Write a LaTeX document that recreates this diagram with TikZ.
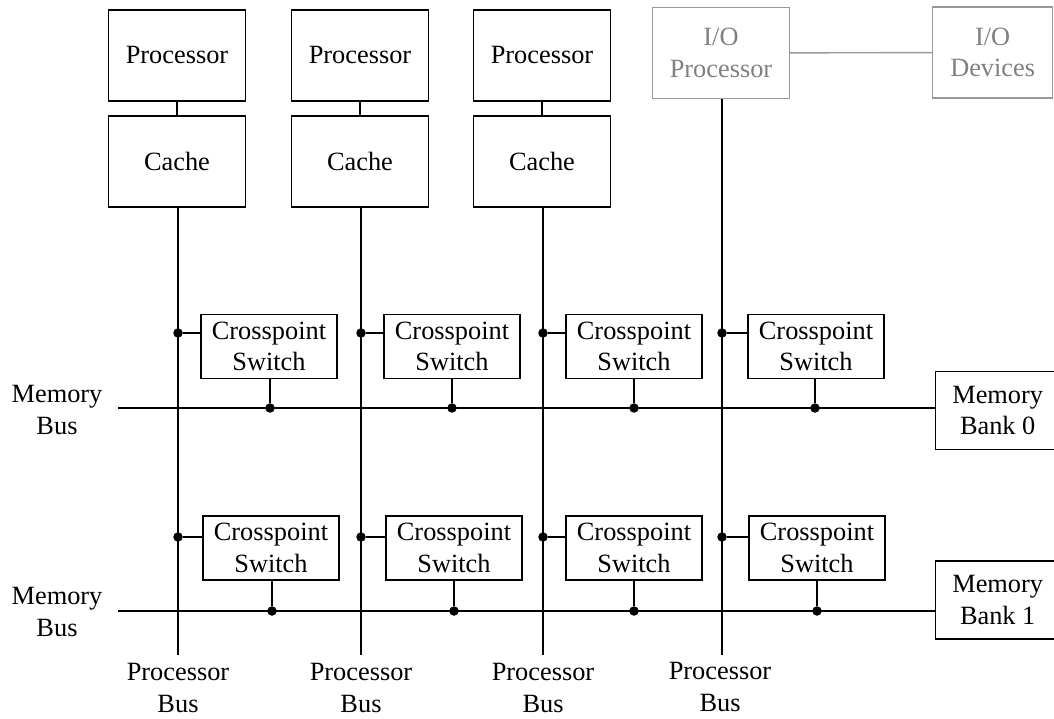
\documentclass[tikz,border=0pt]{standalone}
\usepackage{fontspec}
\setmainfont{Liberation Serif}
\usetikzlibrary{positioning,calc}

\begin{document}
\begin{tikzpicture}[x=0.02cm, y=-0.02cm,
    % boxes
    box/.style={draw, line width=0.8pt, minimum width=2.74cm, minimum height=1.82cm, inner sep=0pt, align=center, font=\fontsize{15}{18}\selectfont},
    swbox/.style={box, minimum width=2.72cm, minimum height=1.28cm},
    bankbox/.style={box, minimum width=2.48cm, minimum height=1.56cm, anchor=west},
    iobox/.style={box, draw=black!40, text=black!50},
    % lines and joints
    bus/.style={draw, line width=0.8pt},
    iobus/.style={draw=black!40, line width=0.8pt},
    joint/.style={circle, fill=black, minimum size=0.19cm, inner sep=0pt},
    lbl/.style={align=center, font=\fontsize{15}{18}\selectfont}
  ]
  \useasboundingbox (0,0) rectangle (1054,719);

  % --- PROCESSORS AND CACHES ---
  \node[box] (p1) at (177,55.5) {Processor};
  \node[box] (p2) at (360,55.5) {Processor};
  \node[box] (p3) at (542,55.5) {Processor};
  \node[iobox] (p4) at (721,53) {I/O\\Processor};
  \node[iobox, anchor=west, minimum width=2.4cm] (dev) at (932,52.5) {I/O\\Devices};

  \node[box] (c1) at (177,161.5) {Cache};
  \node[box] (c2) at (360,161.5) {Cache};
  \node[box] (c3) at (542,161.5) {Cache};

  \draw[bus] (p1) -- (c1);
  \draw[bus] (p2) -- (c2);
  \draw[bus] (p3) -- (c3);
  \draw[iobus] (p4) -- (dev);

  % --- PROCESSOR BUSES ---
  \coordinate (b1) at (178,655);
  \coordinate (b2) at (361,655);
  \coordinate (b3) at (543,655);
  \coordinate (b4) at (722,655);
  \draw[bus] (c1.south -| b1) -- (b1);
  \draw[bus] (c2.south -| b2) -- (b2);
  \draw[bus] (c3.south -| b3) -- (b3);
  \draw[bus] (p4.south -| b4) -- (b4);

  % --- MEMORY BANKS AND MEMORY BUSES ---
  \node[bankbox] (m0) at (935,410.5) {Memory\\Bank 0};
  \node[bankbox] (m1) at (935,600) {Memory\\Bank 1};
  \coordinate (mb0) at (118,408);
  \coordinate (mb1) at (118,611);
  \draw[bus] (mb0) -- (mb0 -| m0.west);
  \draw[bus] (mb1) -- (mb1 -| m1.west);

  \node[lbl] (l0) at (57,410) {Memory\\Bus};
  \node[lbl] (l1) at (57,612) {Memory\\Bus};

  % --- CROSSPOINT SWITCHES ---
  % row of memory bank 0
  \node[swbox] (s01) at (269,346.5) {Crosspoint\\Switch};
  \node[swbox] (s02) at (452,346.5) {Crosspoint\\Switch};
  \node[swbox] (s03) at (634,346.5) {Crosspoint\\Switch};
  \node[swbox] (s04) at (816,346.5) {Crosspoint\\Switch};
  % row of memory bank 1
  \node[swbox] (s11) at (271,548) {Crosspoint\\Switch};
  \node[swbox] (s12) at (454,548) {Crosspoint\\Switch};
  \node[swbox] (s13) at (634,548) {Crosspoint\\Switch};
  \node[swbox] (s14) at (817,548) {Crosspoint\\Switch};

  % joints on processor buses
  \node[joint] (j01) at (178,333) {};
  \node[joint] (j02) at (361,333) {};
  \node[joint] (j03) at (543,333) {};
  \node[joint] (j04) at (722,333) {};
  \node[joint] (j11) at (178,537) {};
  \node[joint] (j12) at (361,537) {};
  \node[joint] (j13) at (543,537) {};
  \node[joint] (j14) at (722,537) {};

  % joints on memory buses
  \node[joint] (k01) at (270,408) {};
  \node[joint] (k02) at (452,408) {};
  \node[joint] (k03) at (634,408) {};
  \node[joint] (k04) at (815,408) {};
  \node[joint] (k11) at (272,611) {};
  \node[joint] (k12) at (454,611) {};
  \node[joint] (k13) at (634,611) {};
  \node[joint] (k14) at (817,611) {};

  \draw[bus] (j01) -- (j01 -| s01.west);  \draw[bus] (s01.south -| k01) -- (k01);
  \draw[bus] (j02) -- (j02 -| s02.west);  \draw[bus] (s02.south -| k02) -- (k02);
  \draw[bus] (j03) -- (j03 -| s03.west);  \draw[bus] (s03.south -| k03) -- (k03);
  \draw[bus] (j04) -- (j04 -| s04.west);  \draw[bus] (s04.south -| k04) -- (k04);
  \draw[bus] (j11) -- (j11 -| s11.west);  \draw[bus] (s11.south -| k11) -- (k11);
  \draw[bus] (j12) -- (j12 -| s12.west);  \draw[bus] (s12.south -| k12) -- (k12);
  \draw[bus] (j13) -- (j13 -| s13.west);  \draw[bus] (s13.south -| k13) -- (k13);
  \draw[bus] (j14) -- (j14 -| s14.west);  \draw[bus] (s14.south -| k14) -- (k14);

  % --- BUS LABELS ---
  \node[lbl] (q1) at (178,688) {Processor\\Bus};
  \node[lbl] (q2) at (361,688) {Processor\\Bus};
  \node[lbl] (q3) at (543,688) {Processor\\Bus};
  \node[lbl] (q4) at (720,687) {Processor\\Bus};
\end{tikzpicture}
\end{document}
